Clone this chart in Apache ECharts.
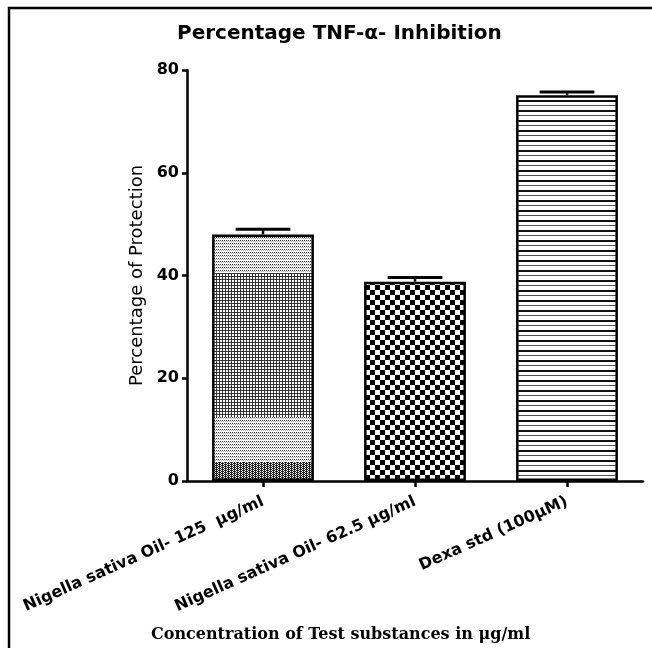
<!DOCTYPE html>
<html>
<head>
<meta charset="utf-8">
<script src="https://cdn.jsdelivr.net/npm/echarts@6/dist/echarts.min.js"></script>
<style>
html,body{margin:0;padding:0;background:#fff;}
#chart{width:652px;height:648px;}
</style>
</head>
<body>
<div id="chart"></div>
<script>
// ---- data ----
const categories = ['Nigella sativa Oil- 125  μg/ml', 'Nigella sativa Oil- 62.5 μg/ml', 'Dexa std (100μM)'];
const values = [48.0, 38.8, 75.1];
const errors = [1.0, 0.8, 0.6];
const yTicks = [0, 20, 40, 60, 80];

// ---- style helpers ----
function makeCanvas(w, h, painter) {
  const c = document.createElement('canvas');
  c.width = w; c.height = h;
  const ctx = c.getContext('2d');
  ctx.fillStyle = '#fff';
  ctx.fillRect(0, 0, w, h);
  painter(ctx, w, h);
  return c;
}
const checkerPattern = makeCanvas(10, 10, function (ctx) {
  ctx.fillStyle = '#000';
  ctx.fillRect(0, 0, 5, 5);
  ctx.fillRect(5, 5, 5, 5);
});
const stripePattern = makeCanvas(4, 10, function (ctx, w) {
  ctx.fillStyle = '#111';
  ctx.fillRect(0, 0, w, 2);
  ctx.fillStyle = '#555';
  ctx.fillRect(0, 5, w, 1);
});

const el = document.getElementById('chart');
const chart = echarts.init(el, null, { renderer: 'canvas' });

const sans = 'DejaVu Sans';

const option = {
  backgroundColor: '#fff',
  animation: false,
  title: [{
    text: 'Percentage TNF-α- Inhibition',
    left: 172, top: 19,
    textStyle: { fontFamily: sans, fontWeight: 'bold', fontSize: 20, color: '#000' }
  }, {
    text: 'Concentration of Test substances in μg/ml',
    left: 146, top: 622,
    textStyle: { fontFamily: 'DejaVu Serif', fontWeight: 'bold', fontSize: 16, color: '#000' }
  }],
  graphic: [{
    type: 'polyline',
    shape: { points: [[9, 648], [9, 8], [652, 8]] },
    style: { stroke: '#000', lineWidth: 2.5, fill: null }
  }],
  grid: { left: 187, right: 9, top: 70, bottom: 167, containLabel: false },
  xAxis: {
    type: 'category',
    data: categories,
    axisLine: { lineStyle: { color: '#000', width: 2.5 } },
    axisTick: { show: true, alignWithLabel: true, length: 6, lineStyle: { color: '#000', width: 2.5 } },
    axisLabel: {
      rotate: 24, margin: 20, interval: 0,
      fontFamily: sans, fontWeight: 'bold', fontSize: 16, color: '#000'
    },
    splitLine: { show: false }
  },
  yAxis: {
    type: 'value',
    min: yTicks[0], max: yTicks[yTicks.length - 1], interval: 20,
    name: 'Percentage of Protection',
    nameLocation: 'middle',
    nameGap: 36,
    nameTextStyle: { fontFamily: sans, fontSize: 18, color: '#000' },
    axisLine: { show: true, lineStyle: { color: '#000', width: 2.5 } },
    axisTick: { show: true, length: 5, lineStyle: { color: '#000', width: 2.5 } },
    axisLabel: { margin: 8, fontFamily: sans, fontWeight: 'bold', fontSize: 16, color: '#000' },
    splitLine: { show: false }
  },
  series: [
    {
      id: 'bars',
      type: 'bar',
      barCategoryGap: '33%',
      data: values.map(function (v) { return { value: v }; }),
      itemStyle: { borderColor: '#000', borderWidth: 2.5, color: '#888' },
      z: 2
    },
    {
      id: 'err',
      type: 'custom',
      z: 3,
      data: values.map(function (v, i) { return [i, v, v + errors[i]]; }),
      renderItem: function (params, api) {
        const i = api.value(0);
        const base = api.coord([i, api.value(1)]);
        const top = api.coord([i, api.value(2)]);
        const half = api.size([1, 0])[0] * 0.18;
        return {
          type: 'group',
          children: [
            { type: 'line', shape: { x1: base[0], y1: base[1], x2: top[0], y2: top[1] },
              style: { stroke: '#000', lineWidth: 2.5 } },
            { type: 'line', shape: { x1: top[0] - half, y1: top[1], x2: top[0] + half, y2: top[1] },
              style: { stroke: '#000', lineWidth: 3 } }
          ]
        };
      }
    }
  ]
};
chart.setOption(option);

// Banded fill for the first bar (bands expressed in axis values, converted via the axis scale)
const bands = [
  [0, 3.7, 'check'],
  [3.7, 12.5, 'light'],
  [12.5, 40.5, 'grid'],
  [40.5, 100, 'light']
];
function paintRow(ctx, type, x, y) {
  if (type === 'check') {
    return ((x + y) % 2 === 0) || (x % 3 === 0) ? '#222' : null;
  }
  if (type === 'grid') {
    return (x % 3 === 0 || y % 3 === 0) ? '#333' : null;
  }
  return (y % 3 === 0 && x % 2 === 0) ? '#333' : (y % 3 === 1 && x % 2 === 1 ? '#aaa' : null);
}
const H = 648;
const bandCanvas = makeCanvas(6, H, function (ctx, w) {
  bands.forEach(function (b) {
    const yTop = Math.round(chart.convertToPixel({ yAxisIndex: 0 }, Math.min(b[1], 80)));
    const yBot = Math.round(chart.convertToPixel({ yAxisIndex: 0 }, b[0]));
    const y0 = b[1] >= 80 ? 0 : yTop;
    for (let y = y0; y < yBot; y++) {
      for (let x = 0; x < w; x++) {
        const col = paintRow(ctx, b[2], x, y);
        if (col) { ctx.fillStyle = col; ctx.fillRect(x, y, 1, 1); }
      }
    }
  });
});
const fills = [
  { image: bandCanvas, repeat: 'repeat' },
  { image: checkerPattern, repeat: 'repeat' },
  { image: stripePattern, repeat: 'repeat' }
];
chart.setOption({
  series: [{
    id: 'bars',
    data: values.map(function (v, i) { return { value: v, itemStyle: { color: fills[i] } }; })
  }]
});
</script>
</body>
</html>
